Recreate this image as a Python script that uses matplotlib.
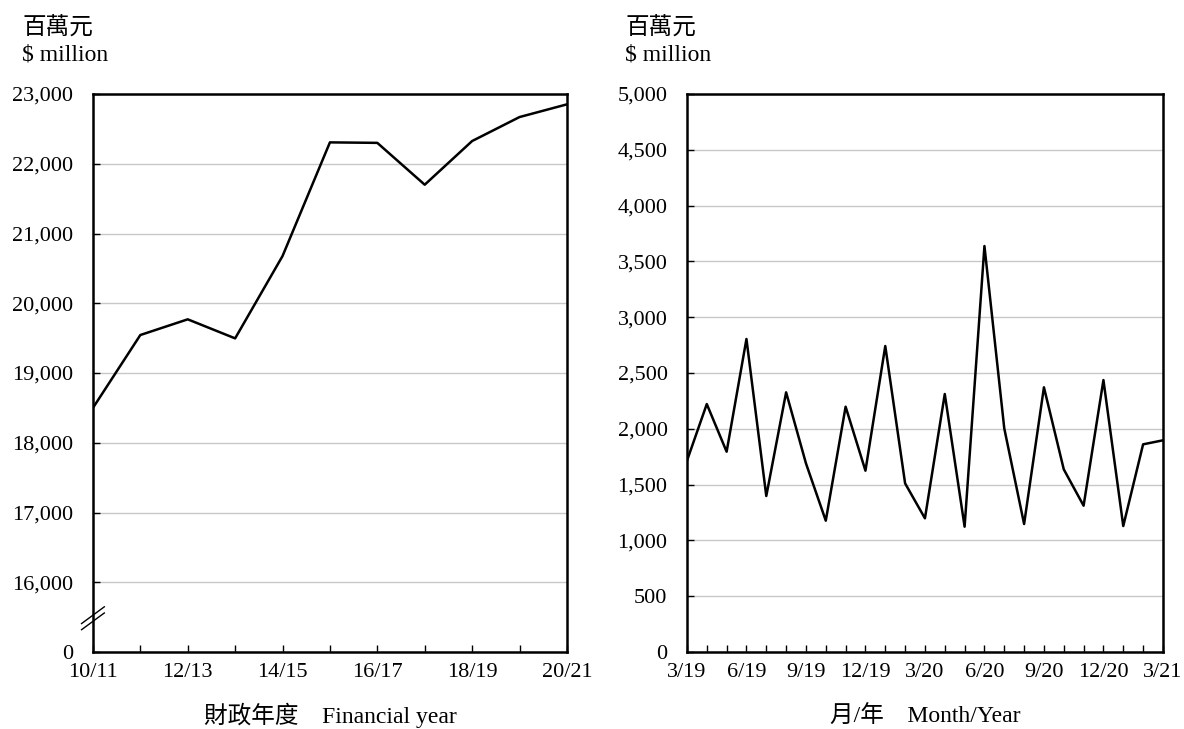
import matplotlib
matplotlib.use('Agg')
import matplotlib.pyplot as plt
from matplotlib.ticker import FuncFormatter

plt.rcParams['font.family'] = ['Liberation Serif', 'Noto Sans CJK TC']
plt.rcParams['font.size'] = 16

# financial years (left panel)
fy_labels = ['10/11', '11/12', '12/13', '13/14', '14/15', '15/16',
             '16/17', '17/18', '18/19', '19/20', '20/21']
fy_values = [18500, 19545, 19770, 19497, 20677, 22307,
             22300, 21700, 22326, 22670, 22852]

# months (right panel), Mar 2019 - Mar 2021
month_labels = ['3/19', '4/19', '5/19', '6/19', '7/19', '8/19', '9/19',
                '10/19', '11/19', '12/19', '1/20', '2/20', '3/20', '4/20',
                '5/20', '6/20', '7/20', '8/20', '9/20', '10/20', '11/20',
                '12/20', '1/21', '2/21', '3/21']
month_values = [1714, 2222, 1795, 2805, 1398, 2327, 1691, 1177, 2198, 1625,
                2742, 1511, 1198, 2312, 1123, 3638, 2004, 1147, 2372, 1637,
                1311, 2437, 1129, 1861, 1897]

left_yticks = [15000, 16000, 17000, 18000, 19000, 20000, 21000, 22000, 23000]
right_yticks = list(range(0, 5001, 500))

fig = plt.figure(figsize=(11.84, 7.29), dpi=100)
ax1 = fig.add_axes([0.0785, 0.1056, 0.4003, 0.7654])
ax2 = fig.add_axes([0.5802, 0.1056, 0.4020, 0.7654])


def style(ax):
    for s in ax.spines.values():
        s.set_linewidth(1.8)
    ax.grid(axis='y', color='#c8c8c8', linewidth=1.0)
    ax.set_axisbelow(True)
    ax.tick_params(axis='x', direction='in', length=5, width=1, pad=8)
    ax.tick_params(axis='y', direction='in', length=5, width=1, pad=14)


# left panel
x1 = list(range(len(fy_values)))
ax1.plot(x1, fy_values, color='black', linewidth=1.8)
ax1.set_xlim(0, len(fy_values) - 1)
ax1.set_ylim(15000, 23000)
ax1.set_xticks(x1)
ax1.set_xticklabels([l if i % 2 == 0 else '' for i, l in enumerate(fy_labels)])
ax1.set_yticks(left_yticks)
ax1.yaxis.set_major_formatter(FuncFormatter(lambda v, p: '0' if v == 15000 else f'{int(v):,}'))
style(ax1)

# break marks on the left axis
for dy in (0.0, 0.011):
    ax1.plot([-0.024, 0.024], [0.040 + dy, 0.070 + dy], transform=ax1.transAxes,
             color='black', linewidth=1.0, clip_on=False)

# right panel
x2 = list(range(len(month_values)))
ax2.plot(x2, month_values, color='black', linewidth=1.8)
ax2.set_xlim(0, len(month_values) - 1)
ax2.set_ylim(0, 5000)
ax2.set_xticks(x2)
ax2.set_xticklabels([l if i % 3 == 0 else '' for i, l in enumerate(month_labels)])
ax2.set_yticks(right_yticks)
ax2.yaxis.set_major_formatter(FuncFormatter(lambda v, p: f'{int(v):,}'))
style(ax2)

# axis titles
fig.text(330 / 1184, 1 - 723 / 729, '財政年度　Financial year', fontsize=17,
         fontweight='light', ha='center', va='baseline')
fig.text(925 / 1184, 1 - 723 / 729, '月/年　Month/Year', fontsize=17,
         fontweight='light', ha='center', va='baseline')

# unit labels
for x0 in (22, 625):
    fig.text(x0 / 1184, 1 - 29 / 729, '百萬元', fontsize=17, fontweight='light',
             ha='left', va='center')
    fig.text(x0 / 1184, 1 - 55 / 729, '$ million', fontsize=17,
             ha='left', va='center')

fig.savefig('out.png', dpi=100)
